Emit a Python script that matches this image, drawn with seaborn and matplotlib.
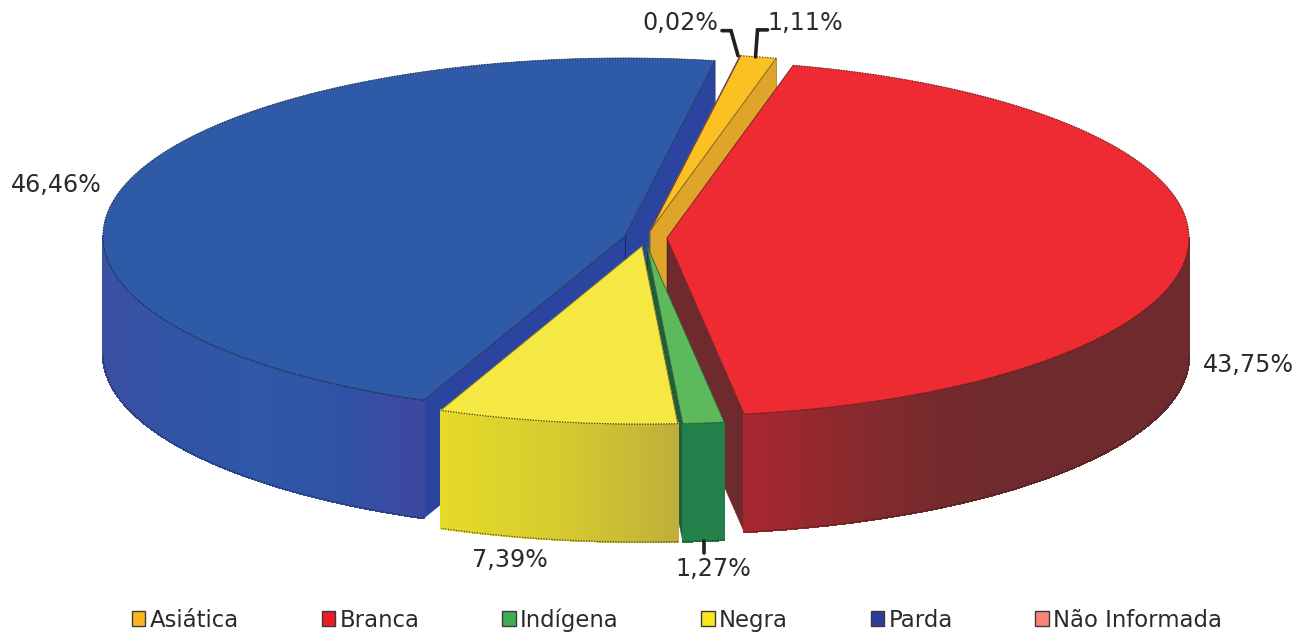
import numpy as np
import matplotlib
matplotlib.use("Agg")
import matplotlib.pyplot as plt
from matplotlib.collections import PolyCollection
from matplotlib.patches import Patch
import seaborn as sns

# ---- data -------------------------------------------------------------
categories = ["Asiática", "Branca", "Indígena", "Negra", "Parda", "Não Informada"]
shares = [1.11, 43.75, 1.27, 7.39, 46.46, 0.02]
share_labels = ["1,11%", "43,75%", "1,27%", "7,39%", "46,46%", "0,02%"]

# ---- styling and layout ------------------------------------------------
top_colors = ["#FBC021", "#EE2A32", "#5CBA5C", "#F5E842", "#2F5AA8", "#F58676"]
legend_colors = ["#FBB720", "#ED1C24", "#3FAE4E", "#F8E71C", "#2B3E9F", "#F58676"]
cut_colors = ["#DFA52A", "#6F2A2D", "#1F5E38", "#BFAE3A", "#2B44A0", "#F58676"]
rim_stops = [
    ["#DFA52A", "#DFA52A"],
    ["#A8272F", "#96292E", "#842A2E", "#762A2D", "#6F2A2D", "#6F2A2D", "#6F2A2D", "#6F2A2D"],
    ["#23804A", "#23804A"],
    ["#E6DA28", "#D6CB30", "#BFAE3A"],
    ["#3A50A3", "#3254A6", "#2F58A8", "#3052A6", "#3E479F"],
    ["#F58676", "#F58676"],
]
apex_offsets = [(0, -9), (17, -2), (-3, 6), (-8, 6), (-25, -4), (0, -9)]
CENTER = (650, 240)
RX, RY, DEPTH = 522, 178, 118
START = 10.0
TEXT = "#2A2A2A"
FS = 17.2
FS_LEGEND = 16.4

sns.set_theme(style="white")
plt.rcParams["font.family"] = ["DejaVu Sans"]
fig = plt.figure(figsize=(12.96, 6.34), dpi=100)
ax = fig.add_axes([0, 0, 1, 1])
ax.set_xlim(0, 1296)
ax.set_ylim(634, 0)
ax.axis("off")

sweeps = np.array(shares) / sum(shares) * 360
ends = START + np.cumsum(sweeps)
starts = ends - sweeps


def rim(apex, deg):
    t = np.radians(deg)
    return apex[0] + RX * np.sin(t), apex[1] - RY * np.cos(t)


apexes = [(CENTER[0] + dx, CENTER[1] + dy) for dx, dy in apex_offsets]


def edge_line(x, y, dark="#1A1A1A", z=0):
    ax.plot(x, y, color=dark, lw=0.8, ls=(0, (1, 1.4)), alpha=0.85, zorder=z)


def cut_face(i, deg, z):
    ax0, ay0 = apexes[i]
    ex, ey = rim(apexes[i], deg)
    ax.fill([ax0, ex, ex, ax0], [ay0, ey, ey + DEPTH, ay0 + DEPTH],
            color=cut_colors[i], lw=0.4, zorder=z)
    ax.plot([ex, ex], [ey, ey + DEPTH], color="#000000", lw=0.4, alpha=0.45, zorder=z)
    ax.plot([ax0, ax0], [ay0, ay0 + DEPTH], color="#000000", lw=0.4, alpha=0.45, zorder=z)


def rim_face(i, z):
    lo, hi = max(starts[i], 90), min(ends[i], 270)
    if starts[i] > 270:
        return
    th = np.linspace(lo, hi, max(2, int((hi - lo) * 3) + 1))
    xs, ys = rim(apexes[i], th)
    cmap = sns.blend_palette(rim_stops[i], as_cmap=True)
    span = max(xs.max() - xs.min(), 1)
    polys, cols = [], []
    for k in range(len(th) - 1):
        polys.append([(xs[k], ys[k]), (xs[k + 1], ys[k + 1]),
                      (xs[k + 1], ys[k + 1] + DEPTH), (xs[k], ys[k] + DEPTH)])
        cols.append(cmap(((xs[k] + xs[k + 1]) / 2 - xs.min()) / span))
    ax.add_collection(PolyCollection(polys, facecolors=cols, edgecolors=cols,
                                     linewidths=1.0, antialiaseds=False, zorder=z))
    edge_line(xs, ys + DEPTH, z=z)
    edge_line(xs, ys, z=z)


def top_face(i, z):
    th = np.linspace(starts[i], ends[i], max(2, int(sweeps[i] * 3) + 1))
    xs, ys = rim(apexes[i], th)
    ax.fill(np.r_[apexes[i][0], xs], np.r_[apexes[i][1], ys],
            color=top_colors[i], lw=0.3, zorder=z)
    edge_line(xs, ys, z=z + 0.1)
    dark = sns.dark_palette(top_colors[i], 4)[1]
    for deg in (starts[i], ends[i]):
        ex, ey = rim(apexes[i], deg)
        ax.plot([apexes[i][0], ex], [apexes[i][1], ey], color=dark, lw=0.6, zorder=z + 0.1)


A, B, I, N, P, U = range(6)
# painter's order, back to front
cut_face(P, ends[P], 1)
cut_face(P, starts[P], 1)
rim_face(P, 2)
top_face(P, 3)
cut_face(A, ends[A], 4)
top_face(A, 5)
top_face(U, 5.5)
cut_face(B, ends[B], 6)
rim_face(B, 7)
top_face(B, 8)
cut_face(I, ends[I], 9)
rim_face(I, 10)
top_face(I, 11)
rim_face(N, 12)
top_face(N, 13)

# ---- labels ------------------------------------------------------------
label_pos = {A: (805, 23), B: (1248, 365), I: (713, 569), N: (510, 560), P: (56, 185), U: (680, 23)}
for i, (x, y) in label_pos.items():
    ax.text(x, y, share_labels[i], ha="center", va="center", fontsize=FS, color=TEXT, zorder=20)

leader = dict(color="#231F20", lw=2.6, solid_joinstyle="miter", zorder=19)
tx, ty = rim(apexes[U], starts[U])
ax.plot([tx - 18, tx - 9, tx - 2], [ty - 25, ty - 25, ty], **leader)
tx, ty = rim(apexes[A], (starts[A] + ends[A]) / 2)
ax.plot([tx + 9, tx - 1, tx - 3], [ty - 27, ty - 27, ty], **leader)
tx, ty = rim(apexes[I], (starts[I] + ends[I]) / 2)
ax.plot([tx, tx], [ty + DEPTH, ty + DEPTH + 12], **leader)

handles = [Patch(facecolor=c, edgecolor="#3A3A3A", lw=1.0) for c in legend_colors]
ax.legend(handles, categories, ncol=6, loc="center", bbox_to_anchor=(677 / 1296, 1 - 620 / 634),
          frameon=False, fontsize=FS_LEGEND, labelcolor=TEXT, handlelength=0.6, handleheight=0.6,
          handletextpad=0.18, columnspacing=3.63, borderpad=0, borderaxespad=0)

fig.savefig("out.png", dpi=100, facecolor="white")
